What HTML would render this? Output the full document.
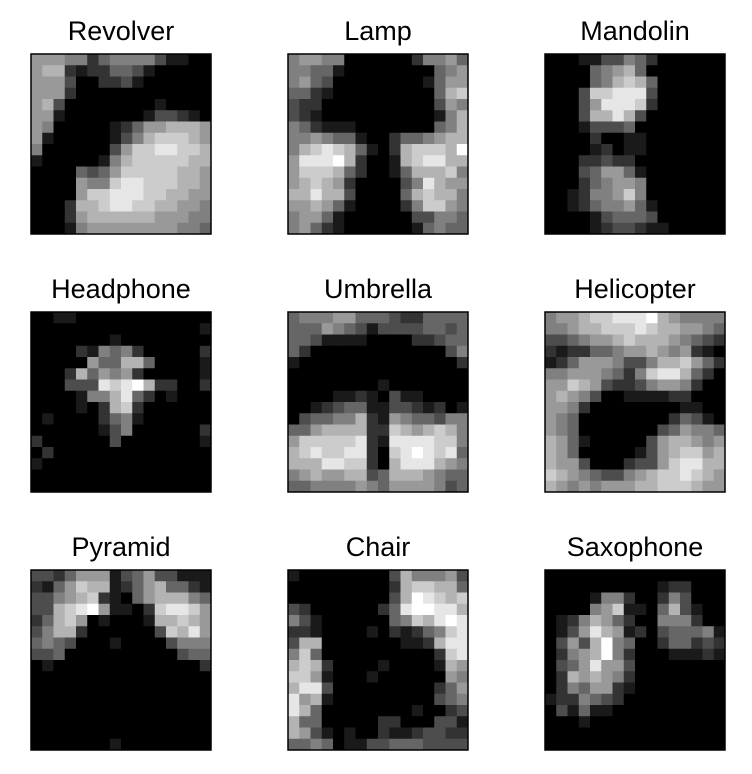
<!DOCTYPE html>
<html><head><meta charset="utf-8">
<style>
html,body{margin:0;padding:0;background:#fff;}
body{width:752px;height:774px;overflow:hidden;font-family:"Liberation Sans",Arial,sans-serif;}
svg{display:block}
</style></head>
<body>
<svg id="chart" width="752" height="774" xmlns="http://www.w3.org/2000/svg"></svg>
<script>
// Each panel: 16 rows of 16 intensity values (0-9, 'a' = 10)
const titles = ["Revolver","Lamp","Mandolin","Headphone","Umbrella","Helicopter","Pyramid","Chair","Saxophone"];
const revolver = ["6665524555531100","6772122443100000","6663002231000000","6662000000000000","6730000000010000","6610000000133210","6500000124667776","6100000135788876","5000000368899887","1000001578888877","0000434688888776","0000655899888776","0000688999887766","0002778998877665","0002677777766655","0001566666666554"];
const lamp = ["5665500000025564","5544100000000456","5643000000001466","4421000000000478","3220000000000365","3210000000000157","5421110000000457","5565441002445677","578987410278887a","6999a72001789977","6888742001477785","6787620000359766","7797730000478775","6676410000258865","5664100000033554","5642100000014544"];
const mandolin = ["0001133542000000","0000456740000000","0000457874000000","0003889993000000","0003699982000000","0003779730000000","0001333400000000","0000200110000000","0000120110000000","0002232200000000","0003466410000000","0002456650000000","0012556850000000","0012455641000000","0000134443000000","0000123321100000"];
const headphone = ["0011000000000000","0000000000000001","0000000100000000","0000215452000002","0000064477400001","0002746562000001","000333989a722002","0000155794201000","0000102782000000","0100002451000000","0000001350000002","2000000300000001","0200000000000000","1000000000000000","0000000000000000","0000000000000000"];
const umbrella = ["4555664443224444","4446543133334434","4431111000022344","4200000000000035","1000000000000002","0000000000000000","0000000010000000","0000112103110000","0012344113321201","0344557216544355","4467777228767875","6888889219999885","78988992089a9894","7779988207999765","5676677347776544","4455556546666534"];
const helicopter = ["566788999a765555","5567788898776654","3345667877765432","2122445667656210","1246665335778642","5566654258997420","6687632235665200","6765300111122000","6652000000001100","6540000000024310","6540000000346554","7641000003677656","7640000013678867","7663000233689977","8765433567889876","7656566677888766"];
const pyramid = ["3324666134633111","2146877124674421","3356782104677754","33789a6110289986","2478601000177876","3577200000038796","4543000100003555","3340000000000344","0100000000000002","0000000000000000","0000000000000000","0000000000000000","0000000000000000","0000000000000000","0000000000000000","0000000100000000"];
const chair = ["1000000003755563","0000000002788774","00000000037a9878","32000000249aa997","53100000045879a9","2210000102124589","3770000000112799","5840000000000289","7872000010000176","8861000100000065","7993000000000246","9671000000000345","9740000000010023","7440000022000331","7631010021123322","4454011334443333"];
const saxophone = ["0000000000000000","0000000000122000","0000155200253000","0000568110473100","0125764200555200","0136976120344451","03637a5400244232","02567a5200011121","0346966300000000","0276765200000000","0254662100000000","1225432000000000","0314110000000000","0001000000000000","0000000000000000","0000000000000000"];
const panels = [revolver,lamp,mandolin,headphone,umbrella,helicopter,pyramid,chair,saxophone];

const NS = "http://www.w3.org/2000/svg";
const svg = document.getElementById("chart");
const colX = [31,288,545], rowY = [54,312,570], SIZE = 180, N = 16;
const cx = (c, col) => colX[col] + c * SIZE / N;
const cy = (r, row) => rowY[row] + r * SIZE / N;
function gray(v){ const g = Math.round(v/10*255); return `rgb(${g},${g},${g})`; }

panels.forEach((data, i) => {
  const col = i % 3, row = Math.floor(i / 3);
  const g = document.createElementNS(NS, "g");
  
  
  data.forEach((rowStr, r) => {
    for (let c = 0; c < N; c++) {
      const v = parseInt(rowStr[c], 16);
      const rect = document.createElementNS(NS, "rect");
      
      
      rect.setAttribute("x", cx(c, col));
      rect.setAttribute("y", cy(r, row));
      rect.setAttribute("width", SIZE / N + 0.3);
      rect.setAttribute("height", SIZE / N + 0.3);
      rect.setAttribute("fill", gray(v));
      g.appendChild(rect);
    }
  });
  const border = document.createElementNS(NS, "rect");
  
  
  border.setAttribute("x", colX[col]); border.setAttribute("y", rowY[row]);
  border.setAttribute("width", SIZE); border.setAttribute("height", SIZE);
  border.setAttribute("fill", "none"); border.setAttribute("stroke", "#000"); border.setAttribute("stroke-width", "1.5");
  g.appendChild(border);
  const t = document.createElementNS(NS, "text");
  
  
  t.setAttribute("x", colX[col] + SIZE / 2);
  t.setAttribute("y", rowY[row] - 14);
  t.setAttribute("text-anchor", "middle");
  t.setAttribute("font-size", "27");
  t.setAttribute("font-family", "Liberation Sans, Arial, sans-serif");
  t.textContent = titles[i];
  g.appendChild(t);
  svg.appendChild(g);
});
</script>
</body></html>
